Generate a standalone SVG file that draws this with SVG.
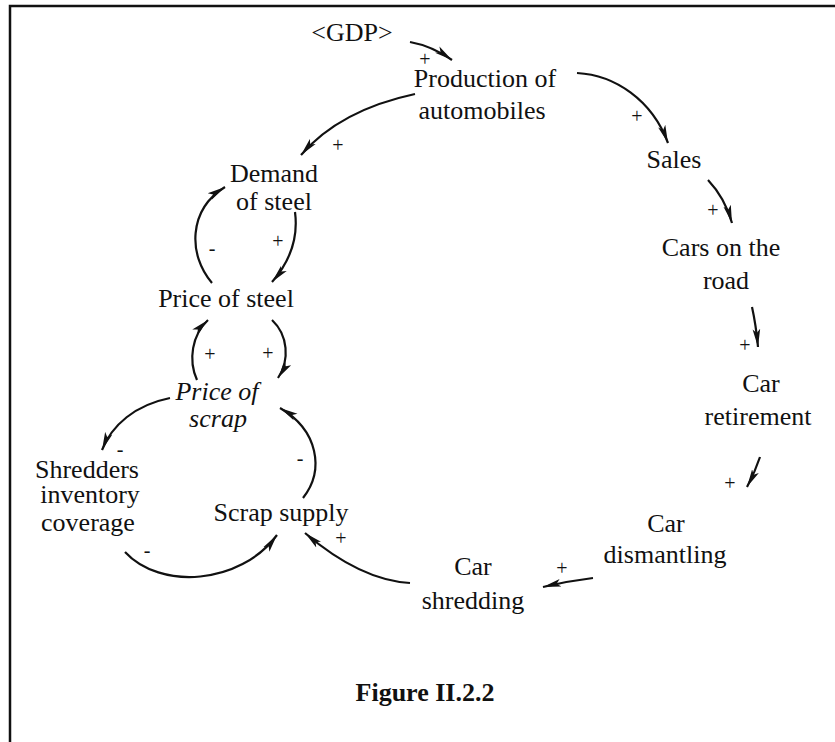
<svg xmlns="http://www.w3.org/2000/svg" width="835" height="742" viewBox="0 0 835 742">
<style>
.t{font-family:"Liberation Serif","Times New Roman",serif;font-size:26px;fill:#111;text-anchor:middle}
.i{font-style:italic}
.b{font-weight:bold}
.s{font-family:"Liberation Serif","Times New Roman",serif;font-size:20px;fill:#111;text-anchor:middle}
.c{fill:none;stroke:#111;stroke-width:2.2;marker-end:url(#ah)}
.frame{fill:none;stroke:#111;stroke-width:2.5}
</style>
<defs>
<marker id="ah" markerUnits="userSpaceOnUse" markerWidth="20" markerHeight="10" refX="18" refY="5" orient="auto">
<path d="M0,1.2 L18,5 L0,8.8 L4,5 Z" fill="#111"/>
</marker>
</defs>
<rect width="835" height="742" fill="#fff"/>
<path class="frame" d="M10,742 L10,6 L835,6"/>

<g id="connectors">
<path class="c" d="M410,42 Q432,46 452,60"/>
<path class="c" d="M577,73 C615,75 652,100 668,143"/>
<path class="c" d="M708,180 Q725,198 732,223"/>
<path class="c" d="M752,307 Q756,325 758,347"/>
<path class="c" d="M760,457 Q755,472 747,487"/>
<path class="c" d="M593,578 Q568,581 543,587"/>
<path class="c" d="M410,583 Q360,580 305,533"/>
<path class="c" d="M415,94 Q340,110 301,155"/>
<path class="c" d="M295,212 Q300,250 272,282"/>
<path class="c" d="M212,283 C188,255 188,210 225,187"/>
<path class="c" d="M197,380 C188,360 192,335 208,320"/>
<path class="c" d="M272,320 C288,335 290,360 278,378"/>
<path class="c" d="M170,398 C135,405 112,425 102,450"/>
<path class="c" d="M303,498 C325,470 318,430 280,408"/>
<path class="c" d="M125,552 C160,590 240,585 277,535"/>
</g>

<g id="polarities">
<text class="s" x="425" y="66">+</text>
<text class="s" x="637" y="123">+</text>
<text class="s" x="713" y="217">+</text>
<text class="s" x="745" y="352">+</text>
<text class="s" x="730" y="490">+</text>
<text class="s" x="562" y="575">+</text>
<text class="s" x="341" y="545">+</text>
<text class="s" x="338" y="152">+</text>
<text class="s" x="278" y="248">+</text>
<text class="s" x="212" y="255">-</text>
<text class="s" x="210" y="361">+</text>
<text class="s" x="268" y="360">+</text>
<text class="s" x="120" y="456">-</text>
<text class="s" x="300" y="465">-</text>
<text class="s" x="147" y="557">-</text>
</g>

<g id="gdp"><text class="t" x="352" y="41">&lt;GDP&gt;</text></g>
<g id="production"><text class="t" x="485" y="87">Production of</text><text class="t" x="482" y="119">automobiles</text></g>
<g id="sales"><text class="t" x="674" y="168">Sales</text></g>
<g id="cars-on-road"><text class="t" x="721" y="256">Cars on the</text><text class="t" x="726" y="289">road</text></g>
<g id="car-retirement"><text class="t" x="761" y="392">Car</text><text class="t" x="758" y="425">retirement</text></g>
<g id="car-dismantling"><text class="t" x="666" y="532">Car</text><text class="t" x="665" y="563">dismantling</text></g>
<g id="car-shredding"><text class="t" x="473" y="575">Car</text><text class="t" x="473" y="609">shredding</text></g>
<g id="demand-steel"><text class="t" x="274" y="182">Demand</text><text class="t" x="274" y="210">of steel</text></g>
<g id="price-steel"><text class="t" x="226" y="307">Price of steel</text></g>
<g id="price-scrap"><text class="t i" x="217" y="400">Price of</text><text class="t i" x="218" y="427">scrap</text></g>
<g id="shredders"><text class="t" x="87" y="478">Shredders</text><text class="t" x="90" y="503">inventory</text><text class="t" x="88" y="531">coverage</text></g>
<g id="scrap-supply"><text class="t" x="281" y="521">Scrap supply</text></g>
<g id="caption"><text class="t b" x="425" y="701">Figure II.2.2</text></g>
</svg>
